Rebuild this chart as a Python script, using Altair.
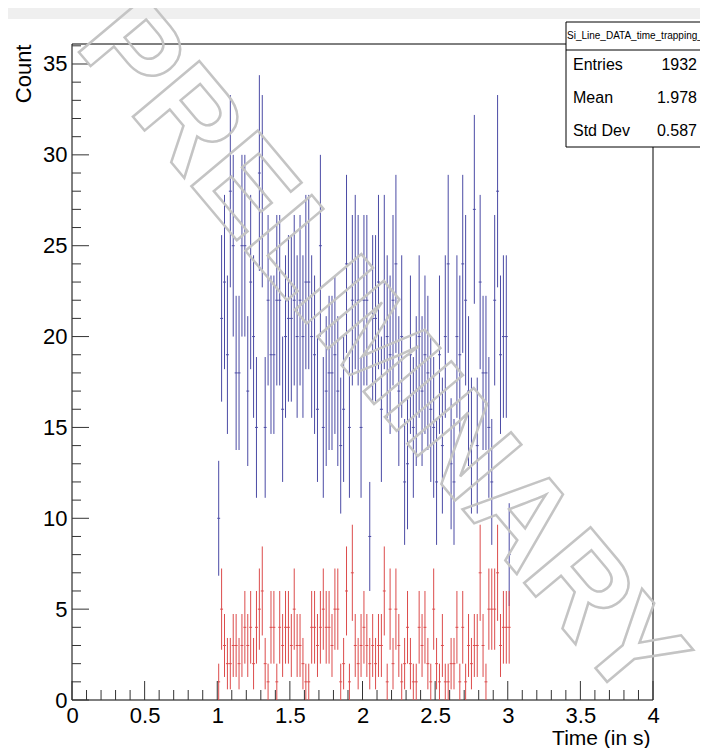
import altair as alt
import pandas as pd

# ---------------- data ----------------
BIN_W = 0.02
X_START = 1.0
blue_counts = [10, 21, 23, 19, 28, 25, 18, 18, 25, 25, 17, 23, 20, 15, 29, 28, 15, 22, 19, 19, 22, 22, 16, 20, 21,
               21, 22, 20, 22, 20, 23, 23, 20, 19, 16, 25, 15, 17, 18, 18, 19, 17, 14, 16, 24, 15, 22, 23, 22, 15,
               22, 22, 9, 21, 21, 23, 16, 23, 20, 19, 22, 24, 17, 20, 12, 13, 19, 15, 17, 20, 17, 19, 18, 16, 15,
               12, 19, 14, 20, 24, 13, 12, 20, 19, 24, 22, 17, 14, 27, 14, 23, 18, 18, 15, 12, 22, 28, 19, 20, 20,
               8]
red_counts = [1, 5, 3, 2, 2, 3, 3, 2, 3, 4, 3, 4, 2, 4, 5, 6, 2, 1, 4, 4, 1, 4, 3, 4, 4,
              3, 5, 3, 3, 2, 1, 1, 4, 4, 3, 4, 5, 4, 4, 3, 5, 5, 1, 2, 6, 1, 7, 3, 2, 3,
              4, 3, 2, 3, 2, 3, 3, 6, 1, 5, 2, 5, 3, 1, 2, 4, 2, 1, 1, 4, 3, 4, 2, 1, 5,
              2, 1, 3, 1, 1, 2, 2, 4, 1, 4, 1, 3, 2, 3, 3, 7, 3, 1, 5, 5, 5, 7, 3, 4, 4,
              4]

x_major = [0, 0.5, 1, 1.5, 2, 2.5, 3, 3.5, 4]
x_minor = [k / 10 for k in range(41)]
y_major = [0, 5, 10, 15, 20, 25, 30, 35]
y_minor = list(range(0, 37))

stats_title = "Si_Line_DATA_time_trapping_1"
stats_names = ["Entries", "Mean", "Std Dev"]
stats_values = ["1932", "1.978", "0.587"]

watermark = "PRELIMINARY"

# ---------------- layout ----------------
W, H = 581, 656
YMAX = 36.1
BLUE = "#4b4ba5"
RED = "#dc4c4c"
FONT = "Liberation Sans"
OX, OY = 72, 44  # page position of plot origin
PAD = {"left": 64, "top": 36, "right": 47, "bottom": 48}
RIGHT_EDGE = 8 + PAD["left"] + W + PAD["right"]  # page x of chart's right edge


def hist_df(counts):
    rows = []
    for i, c in enumerate(counts):
        if c <= 0:
            continue
        lo = X_START + i * BIN_W
        e = c ** 0.5
        rows.append({"t": lo + BIN_W / 2, "x0": lo, "x1": lo + BIN_W,
                     "v": c, "lo": max(c - e, 0), "hi": c + e})
    return pd.DataFrame(rows)


xs = alt.Scale(domain=[0, 4], nice=False, zero=False)
ys = alt.Scale(domain=[0, YMAX], nice=False, zero=True)

blue = hist_df(blue_counts)
red = hist_df(red_counts)


def hist_layers(df, color):
    base = alt.Chart(df)
    vert = base.mark_rule(color=color, strokeWidth=1).encode(
        x=alt.X("t:Q", scale=xs), y=alt.Y("lo:Q", scale=ys), y2="hi:Q")
    hor = base.mark_rule(color=color, strokeWidth=1).encode(
        x=alt.X("x0:Q", scale=xs), x2="x1:Q", y=alt.Y("v:Q", scale=ys))
    return [vert, hor]


one = pd.DataFrame({"a": [0]})

band = alt.Chart(one).mark_rect(fill="#efefef").encode(
    x=alt.value(-OX), x2=alt.value(RIGHT_EDGE - OX), y=alt.value(8 - OY), y2=alt.value(19 - OY))

frame = alt.Chart(one).mark_rect(
    fillOpacity=0, stroke="black", strokeWidth=1).encode(
    x=alt.value(0), x2=alt.value(W), y=alt.value(0), y2=alt.value(H))

axis_layer = alt.Chart(pd.DataFrame({"x": [0], "y": [0]})).mark_point(opacity=0).encode(
    x=alt.X("x:Q", scale=xs, axis=alt.Axis(
        values=x_major, format="~g", title="Time (in s)", grid=False, domain=False,
        ticks=False, tickSize=0, labelPadding=5, labelFlush=False, labelOverlap=False,
        labelFont=FONT, labelFontSize=22,
        labelColor="black", titleFont=FONT, titleFontSize=21, titleFontWeight="normal",
        titleColor="black", titleAnchor="end", titleAlign="right", titleX=W - 3, titleY=44,
        titleBaseline="alphabetic")),
    y=alt.Y("y:Q", scale=ys, axis=alt.Axis(
        values=y_major, title="Count", grid=False, domain=False, ticks=False, tickSize=0,
        labelPadding=5, labelFlush=False, labelOverlap=False,
        labelFont=FONT, labelFontSize=22, labelColor="black",
        titleFont=FONT, titleFontSize=22, titleFontWeight="normal", titleColor="black",
        titleAngle=270, titleAlign="right", titleBaseline="alphabetic",
        titleX=-42, titleY=0)),
)

xmaj_df = pd.DataFrame({"x": x_major})
xmin_df = pd.DataFrame({"x": [v for v in x_minor if abs(v * 2 - round(v * 2)) > 1e-6]})
ymaj_df = pd.DataFrame({"y": y_major})
ymin_df = pd.DataFrame({"y": [v for v in y_minor if v % 5 != 0]})

tick_col = "#333333"
xmaj = alt.Chart(xmaj_df).mark_rule(color=tick_col).encode(
    x=alt.X("x:Q", scale=xs), y=alt.value(H), y2=alt.value(H - 19))
xmin = alt.Chart(xmin_df).mark_rule(color=tick_col).encode(
    x=alt.X("x:Q", scale=xs), y=alt.value(H), y2=alt.value(H - 10))
ymaj = alt.Chart(ymaj_df).mark_rule(color=tick_col).encode(
    y=alt.Y("y:Q", scale=ys), x=alt.value(0), x2=alt.value(17))
ymin = alt.Chart(ymin_df).mark_rule(color=tick_col).encode(
    y=alt.Y("y:Q", scale=ys), x=alt.value(0), x2=alt.value(9))

# stats box
BX0, BX1 = 566 - OX, 720 - OX
box = alt.Chart(one).mark_rect(
    fill="white", stroke="black", strokeWidth=1).encode(
    x=alt.value(BX0), x2=alt.value(BX1), y=alt.value(22 - OY), y2=alt.value(147 - OY))
sep = alt.Chart(one).mark_rule(color="black").encode(
    x=alt.value(BX0), x2=alt.value(BX1), y=alt.value(50 - OY))
box_title = alt.Chart(pd.DataFrame({"s": [stats_title]})).mark_text(
    font=FONT, fontSize=10, align="left", baseline="middle", color="black").encode(
    text="s:N", x=alt.value(567 - OX), y=alt.value(36 - OY))

row_y = [65, 98, 131]
stat_layers = []
for name, val, ry in zip(stats_names, stats_values, row_y):
    d = pd.DataFrame({"name": [name], "val": [val]})
    stat_layers.append(alt.Chart(d).mark_text(
        font=FONT, fontSize=16, align="left", baseline="middle", color="black").encode(
        text="name:N", x=alt.value(573 - OX), y=alt.value(ry - OY)))
    stat_layers.append(alt.Chart(d).mark_text(
        font=FONT, fontSize=16, align="right", baseline="middle", color="black").encode(
        text="val:N", x=alt.value(RIGHT_EDGE - 3 - OX), y=alt.value(ry - OY)))

wm = alt.Chart(pd.DataFrame({"s": [watermark]})).mark_text(
    font=FONT, fontSize=126, fontWeight="bold", align="center", baseline="middle", angle=50,
    fillOpacity=0, stroke="#c4c4c4", strokeWidth=2.5).encode(
    text="s:N", x=alt.value(380 - OX), y=alt.value(352 - OY))

layers = [band, frame, axis_layer] + hist_layers(blue, BLUE) + hist_layers(red, RED) + \
    [xmaj, xmin, ymaj, ymin, wm, box, sep, box_title] + stat_layers

chart = alt.layer(*layers).properties(
    width=W, height=H,
    autosize=alt.AutoSizeParams(type="none"),
    padding=PAD,
).configure_view(stroke=None)

chart.save("out.html", embed_options={"renderer": "svg", "actions": False})
